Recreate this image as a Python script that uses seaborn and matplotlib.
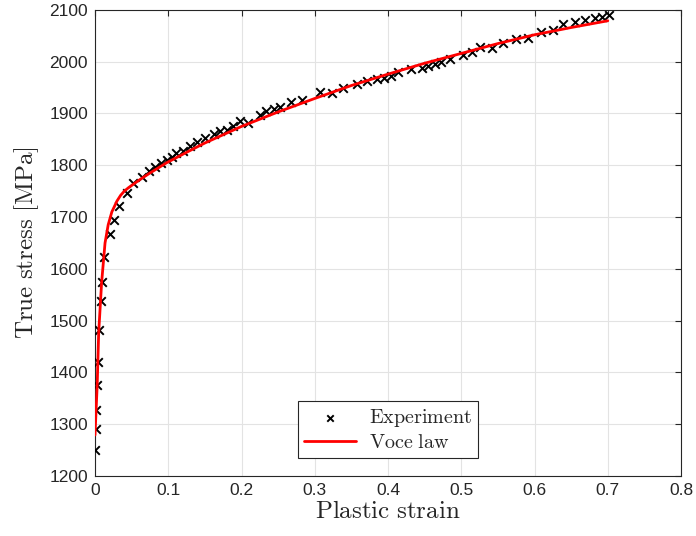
"""
True stress vs plastic strain: experiment points and Voce law fit.
"""

import matplotlib
matplotlib.use("Agg")
import matplotlib.pyplot as plt
import pandas as pd
import seaborn as sns

exp_strain = [
    0.000, 0.0014, 0.0010, 0.003, 0.004, 0.005, 0.008, 0.010, 0.012, 0.020,
    0.026, 0.033, 0.043, 0.052, 0.064, 0.074, 0.082, 0.090, 0.098, 0.105,
    0.111, 0.120, 0.130, 0.139, 0.150, 0.162, 0.171, 0.180, 0.189, 0.198,
    0.209, 0.225, 0.234, 0.244, 0.253, 0.268, 0.282, 0.307, 0.323, 0.339,
    0.357, 0.371, 0.385, 0.395, 0.404, 0.414, 0.432, 0.446, 0.455, 0.464,
    0.473, 0.485, 0.503, 0.514, 0.526, 0.542, 0.557, 0.575, 0.591, 0.609,
    0.625, 0.639, 0.655, 0.669, 0.683, 0.692, 0.701,
]
exp_stress = [
    1250, 1290, 1327, 1375, 1420, 1482, 1538, 1575, 1622, 1667,
    1694, 1722, 1746, 1765, 1777, 1788, 1797, 1804, 1810, 1816,
    1823, 1828, 1837, 1845, 1853, 1860, 1866, 1868, 1875, 1886,
    1882, 1898, 1904, 1908, 1913, 1922, 1926, 1941, 1939, 1949,
    1956, 1962, 1967, 1968, 1972, 1981, 1985, 1988, 1992, 1996,
    2000, 2005, 2013, 2019, 2029, 2027, 2036, 2044, 2046, 2057,
    2061, 2072, 2076, 2081, 2084, 2086, 2091,
]

# Voce law curve
voce_strain = [
    0.000, 0.003, 0.005, 0.009, 0.0137, 0.018, 0.023, 0.030, 0.035, 0.040,
    0.046, 0.052, 0.062, 0.075, 0.098, 0.125, 0.15, 0.2, 0.25, 0.3,
    0.35, 0.4, 0.45, 0.5, 0.55, 0.6, 0.65, 0.7,
]
voce_stress = [
    1279, 1376, 1476, 1573, 1650, 1685, 1710, 1731, 1742, 1750,
    1757, 1763, 1773, 1785, 1805, 1825, 1843, 1875, 1903, 1929,
    1954, 1976, 1997, 2016, 2035, 2052, 2066, 2079,
]

exp_df = pd.DataFrame({"strain": exp_strain, "stress": exp_stress})
voce_df = pd.DataFrame({"strain": voce_strain, "stress": voce_stress})

sns.set_theme(style="whitegrid")
plt.rcParams.update({
    "font.family": ["Liberation Sans", "DejaVu Sans"],
    "mathtext.fontset": "cm",
    "axes.edgecolor": "#262626",
    "axes.linewidth": 0.8,
    "grid.color": "#e3e3e3",
    "grid.linewidth": 0.8,
    "xtick.direction": "in",
    "ytick.direction": "in",
    "xtick.top": True,
    "ytick.right": True,
})

fig = plt.figure(figsize=(6.96, 5.36), dpi=100)
ax = fig.add_axes([0.1365, 0.112, 0.842, 0.8695])

sns.scatterplot(data=exp_df, x="strain", y="stress", ax=ax, marker="x",
                color="black", s=38, linewidth=1.4, label=r"$\mathrm{Experiment}$",
                zorder=3)
sns.lineplot(data=voce_df, x="strain", y="stress", ax=ax, color="red",
             linewidth=2.0, sort=False, label=r"$\mathrm{Voce\ law}$", zorder=4)

ax.set_xlim(0, 0.8)
ax.set_ylim(1200, 2100)
ax.set_xticks([0, 0.1, 0.2, 0.3, 0.4, 0.5, 0.6, 0.7, 0.8])
ax.set_xticklabels(["0", "0.1", "0.2", "0.3", "0.4", "0.5", "0.6", "0.7", "0.8"])
ax.set_yticks(range(1200, 2101, 100))
ax.tick_params(axis="both", which="both", length=4, width=0.8, color="#262626",
               labelsize=12.5, labelcolor="#262626")
ax.tick_params(axis="y", pad=5)
ax.tick_params(axis="x", pad=5)
for side in ["top", "right", "bottom", "left"]:
    ax.spines[side].set_visible(True)

ax.set_xlabel(r"$\mathrm{Plastic\ strain}$", fontsize=18, labelpad=1)
ax.set_ylabel(r"$\mathrm{True\ stress\ [MPa]}$", fontsize=18, labelpad=6)

leg = ax.legend(loc="lower center", bbox_to_anchor=(0.5, 0.038), fontsize=14.5,
                frameon=True, fancybox=False, framealpha=1, edgecolor="#262626",
                borderpad=0.3, borderaxespad=0, handlelength=2.6,
                handletextpad=0.6, labelspacing=0.2, markerscale=0.75)
leg.get_frame().set_linewidth(0.8)

fig.savefig("out.png", dpi=100)
plt.close(fig)
